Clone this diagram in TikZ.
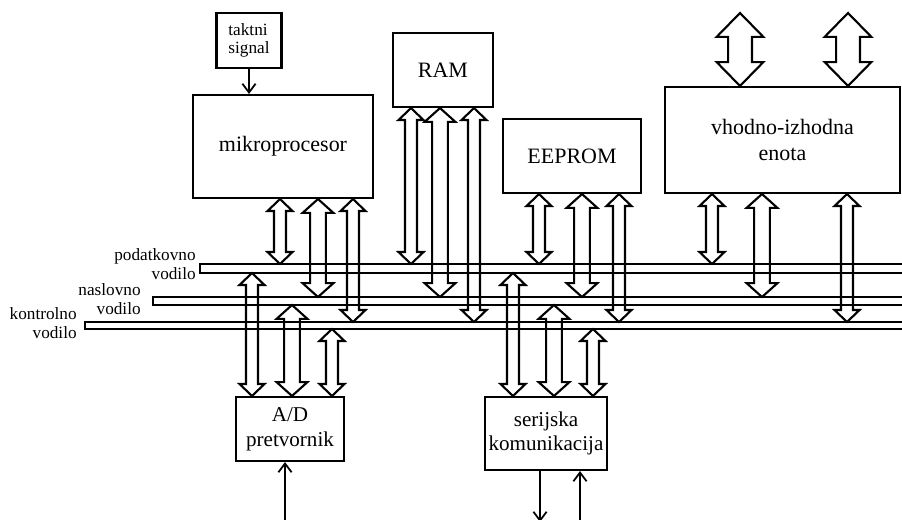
\documentclass[tikz,border=0pt]{standalone}
\usepackage{fontspec}
\setmainfont{Liberation Serif}
\usetikzlibrary{arrows.meta,calc}

\tikzset{
  unit/.style={draw, line width=1.2pt, inner sep=0pt, align=center, font=\fontsize{12.5}{15}\selectfont},
  smallunit/.style={unit, font=\fontsize{12}{14}\selectfont},
  bus/.style={line width=1.2pt, line join=miter},
  buslabel/.style={align=right, anchor=east, inner sep=0pt, font=\fontsize{9.8}{10.4}\selectfont},
  sig/.style={line width=1pt, -{Straight Barb[length=5pt, width=7.5pt]}}
}

% hollow two-headed port: top point, bottom point, half shaft, half head, head length
\newcommand{\vport}[5]{%
  \draw[bus] let \p1=(#1), \p2=(#2) in
    (\x1,\y1) -- (\x1+#4,\y1-#5) -- (\x1+#3,\y1-#5) -- (\x1+#3,\y2+#5) -- (\x1+#4,\y2+#5)
    -- (\x1,\y2) -- (\x1-#4,\y2+#5) -- (\x1-#3,\y2+#5) -- (\x1-#3,\y1-#5) -- (\x1-#4,\y1-#5) -- cycle;}

\begin{document}
\begin{tikzpicture}[x=0.02cm, y=-0.02cm]
  \useasboundingbox (0,0) rectangle (902,520);

  % units
  \node[unit, align=left, font=\fontsize{9.8}{10.2}\selectfont, minimum width=1.3cm, minimum height=1.1cm] (takt) at (249,40.5) {taktni\\signal};
  \node[unit, minimum width=3.6cm, minimum height=2.06cm] (mp) at (283,146.5) {mikroprocesor};
  \node[unit, minimum width=2.0cm, minimum height=1.48cm] (ram) at (443,70) {RAM};
  \node[unit, minimum width=2.76cm, minimum height=1.48cm] (eeprom) at (572,156) {EEPROM};
  \node[unit, minimum width=4.7cm, minimum height=2.12cm] (io) at (782.5,140) {vhodno-izhodna\\enota};
  \node[smallunit, minimum width=2.16cm, minimum height=1.28cm] (ad) at (290,429) {A/D\\pretvornik};
  \node[smallunit, minimum width=2.44cm, minimum height=1.46cm] (ser) at (546,433.5) {serijska\\komunikacija};

  % buses
  \coordinate (podT) at (200,264); \coordinate (podB) at (200,273);
  \coordinate (nasT) at (153,297); \coordinate (nasB) at (153,305);
  \coordinate (konT) at (85,322);  \coordinate (konB) at (85,329);
  \draw[bus] (904,264) -- (podT) -- (podB) -- (904,273);
  \draw[bus] (904,297) -- (nasT) -- (nasB) -- (904,305);
  \draw[bus] (904,322) -- (konT) -- (konB) -- (904,329);
  \node[buslabel] at (196,264) {podatkovno\\vodilo};
  \node[buslabel] at (141,299) {naslovno\\vodilo};
  \node[buslabel] at (77,323) {kontrolno\\vodilo};

  % ports down to the buses
  \foreach \xp/\src/\dst in {280/mp/podT, 353/mp/konT, 411/ram/podT, 474/ram/konT,
                             539/eeprom/podT, 619/eeprom/konT, 712/io/podT, 847/io/konT}
    \vport{\xp,0 |- \src.south}{\xp,0 |- \dst}{3.4pt}{7.1pt}{6.8pt};
  \foreach \xp/\src in {318/mp, 440/ram, 582/eeprom, 762/io}
    \vport{\xp,0 |- \src.south}{\xp,0 |- nasT}{4.5pt}{8.8pt}{7.9pt};

  % ports up from the buses
  \foreach \xp/\src/\dst in {252/podB/ad, 332/konB/ad, 513/podB/ser, 593/konB/ser}
    \vport{\xp,0 |- \src}{\xp,0 |- \dst.north}{3.4pt}{7.1pt}{6.8pt};
  \foreach \xp/\dst in {292/ad, 554/ser}
    \vport{\xp,0 |- nasB}{\xp,0 |- \dst.north}{4.5pt}{8.8pt}{7.9pt};

  % outside ports of I/O
  \foreach \xp in {740, 848}
    \vport{\xp,13}{\xp,0 |- io.north}{6.8pt}{13.3pt}{13.6pt};

  % signals
  \coordinate (adin) at (285,522);
  \coordinate (serout) at (540,522);
  \coordinate (serin) at (580,522);
  \draw[sig] (takt.south) -- (takt.south |- mp.north);
  \draw[sig] (adin) -- (adin |- ad.south);
  \draw[sig] (serout |- ser.south) -- (serout);
  \draw[sig] (serin) -- (serin |- ser.south);
\end{tikzpicture}
\end{document}
